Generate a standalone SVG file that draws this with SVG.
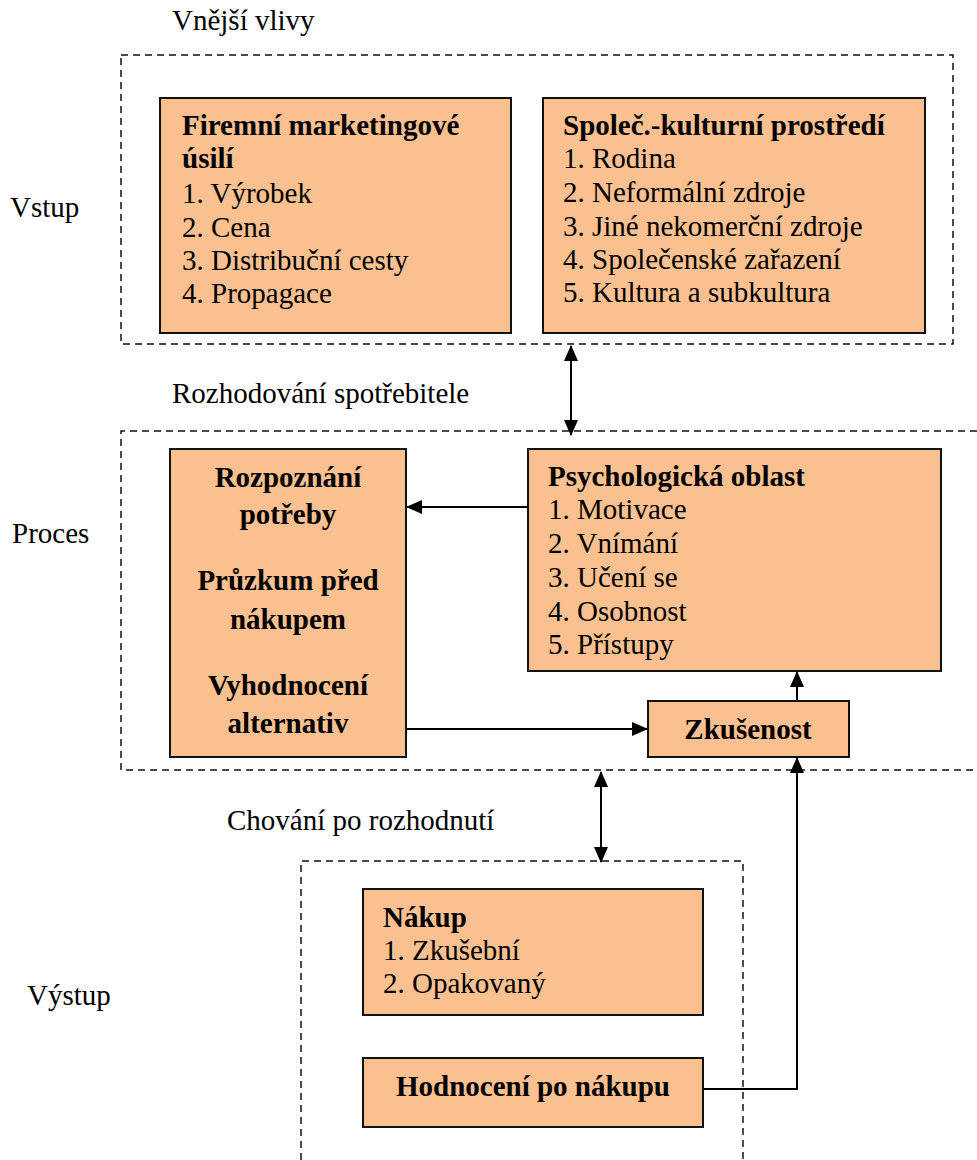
<svg xmlns="http://www.w3.org/2000/svg" width="977" height="1160" viewBox="0 0 977 1160">
<style>
text{font-family:"Liberation Serif","Times New Roman",serif;font-size:29px;fill:#000}
.b{font-weight:bold}
.m{text-anchor:middle}
.box{fill:#FAC090;stroke:#111;stroke-width:2}
.dash{fill:none;stroke:#111;stroke-width:1.5;stroke-dasharray:7 5}
.con{fill:none;stroke:#000;stroke-width:2}
</style>
<defs>
<marker id="ah" markerUnits="userSpaceOnUse" markerWidth="16" markerHeight="14" refX="15" refY="7" orient="auto-start-reverse" viewBox="0 0 16 14">
<path d="M0,0 L16,7 L0,14 Z" fill="#000"/>
</marker>
</defs>
<rect width="977" height="1160" fill="#fff"/>

<g id="labels">
<text x="172" y="30">Vnější vlivy</text>
<text x="10" y="217">Vstup</text>
<text x="172" y="403">Rozhodování spotřebitele</text>
<text x="12" y="543">Proces</text>
<text x="227" y="830">Chování po rozhodnutí</text>
<text x="27" y="1005">Výstup</text>
</g>

<g id="regions">
<path class="dash" d="M121,55 H953 V344 H121 Z"/>
<path class="dash" d="M977,431 H121 V770 H977"/>
<path class="dash" d="M301,1160 V861 H743 V1160"/>
</g>

<g id="connectors">
<line class="con" x1="571" y1="346" x2="571" y2="435" marker-start="url(#ah)" marker-end="url(#ah)"/>
<line class="con" x1="528" y1="507" x2="407" y2="507" marker-end="url(#ah)"/>
<line class="con" x1="406" y1="729" x2="647" y2="729" marker-end="url(#ah)"/>
<line class="con" x1="797" y1="701" x2="797" y2="672" marker-end="url(#ah)"/>
<line class="con" x1="601" y1="772" x2="601" y2="862" marker-start="url(#ah)" marker-end="url(#ah)"/>
<path class="con" d="M703,1089 H797 V758" marker-end="url(#ah)"/>
</g>

<g id="firemni">
<rect class="box" x="160" y="98" width="351" height="235"/>
<text class="b" x="182" y="135">Firemní marketingové</text>
<text class="b" x="182" y="168">úsilí</text>
<text x="182" y="203">1. Výrobek</text>
<text x="182" y="237">2. Cena</text>
<text x="182" y="270">3. Distribuční cesty</text>
<text x="182" y="303">4. Propagace</text>
</g>

<g id="spolec">
<rect class="box" x="543" y="98" width="382" height="235"/>
<text class="b" x="563" y="135">Společ.-kulturní prostředí</text>
<text x="563" y="168">1. Rodina</text>
<text x="563" y="202">2. Neformální zdroje</text>
<text x="563" y="236">3. Jiné nekomerční zdroje</text>
<text x="563" y="269">4. Společenské zařazení</text>
<text x="563" y="302">5. Kultura a subkultura</text>
</g>

<g id="rozpoznani">
<rect class="box" x="170" y="449" width="236" height="308"/>
<text class="b m" x="288" y="487">Rozpoznání</text>
<text class="b m" x="288" y="524">potřeby</text>
<text class="b m" x="288" y="590">Průzkum před</text>
<text class="b m" x="288" y="629">nákupem</text>
<text class="b m" x="288" y="695">Vyhodnocení</text>
<text class="b m" x="288" y="733">alternativ</text>
</g>

<g id="psych">
<rect class="box" x="528" y="449" width="413" height="222"/>
<text class="b" x="548" y="486">Psychologická oblast</text>
<text x="548" y="519">1. Motivace</text>
<text x="548" y="553">2. Vnímání</text>
<text x="548" y="587">3. Učení se</text>
<text x="548" y="621">4. Osobnost</text>
<text x="548" y="654">5. Přístupy</text>
</g>

<g id="zkusenost">
<rect class="box" x="648" y="701" width="201" height="56"/>
<text class="b m" x="748" y="739">Zkušenost</text>
</g>

<g id="nakup">
<rect class="box" x="363" y="889" width="340" height="126"/>
<text class="b" x="383" y="927">Nákup</text>
<text x="383" y="960">1. Zkušební</text>
<text x="383" y="993">2. Opakovaný</text>
</g>

<g id="hodnoceni">
<rect class="box" x="363" y="1058" width="340" height="69"/>
<text class="b m" x="533" y="1096">Hodnocení po nákupu</text>
</g>
</svg>
